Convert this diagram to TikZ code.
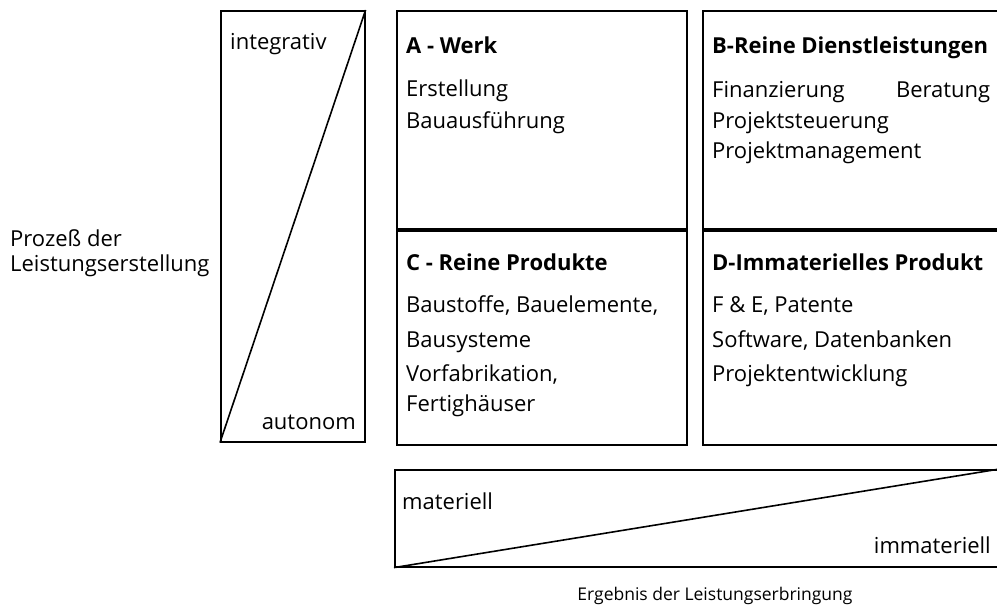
\documentclass[tikz,border=0pt]{standalone}
\usepackage{fontspec}
\setmainfont{Open Sans}
\usetikzlibrary{positioning}

\newcommand{\stacked}[1]{\begin{tabular}[t]{@{}l@{}}#1\end{tabular}}

\tikzset{
    frame/.style={draw,line width=1.6pt,anchor=north west,inner sep=0pt},
    txt/.style={anchor=base west,inner sep=0pt,
        font=\fontsize{22}{32}\selectfont},
    head/.style={txt,font=\fontsize{22}{26}\selectfont\bfseries}
}

\begin{document}
\begin{tikzpicture}[x=1pt,y=-1pt]
    \useasboundingbox (0,0) rectangle (997,612);
    \clip (0,0) rectangle (997,612);

    % Prozess der Leistungserstellung
    \node[frame,minimum width=144pt,minimum height=431pt] (proc) at (220,10) {};
    \draw[line width=1.6pt] (proc.south west) -- (proc.north east);
    \node[txt] (integ) at (230,50) {integrativ};
    \node[txt,anchor=base east] (auton) at (356,430) {autonom};
    \node[txt,font=\fontsize{22}{24.5}\selectfont] (proclbl) at (10,247)
        {\stacked{Prozeß der\\Leistungserstellung}};

    % the four fields
    \node[frame,minimum width=290pt,minimum height=218pt] (A) at (396,10) {};
    \node[frame,minimum width=300pt,minimum height=218pt] (B) at (702,10) {};
    \node[frame,minimum width=290pt,minimum height=214pt] (C) at (396,230) {};
    \node[frame,minimum width=300pt,minimum height=214pt] (D) at (702,230) {};

    \node[head] (Ahead) at (406,54) {A - Werk};
    \node[txt] (Abody) at (406,97) {\stacked{Erstellung\\Bauausführung}};

    \node[head] (Bhead) at (712,54) {B-Reine Dienstleistungen};
    \node[txt,font=\fontsize{22}{30.5}\selectfont] (Bbody) at (712,98)
        {\stacked{\makebox[278pt][l]{Finanzierung\hfill Beratung}\\Projektsteuerung\\Projektmanagement}};

    \node[head] (Chead) at (406,271) {C - Reine Produkte};
    \node[txt,font=\fontsize{22}{34.5}\selectfont] (Cbody) at (406,313)
        {\stacked{Baustoffe, Bauelemente,\\Bausysteme\\Vorfabrikation,\\[-5pt]Fertighäuser}};

    \node[head] (Dhead) at (712,271) {D-Immaterielles Produkt};
    \node[txt,font=\fontsize{22}{34.5}\selectfont] (Dbody) at (712,313)
        {\stacked{F \& E, Patente\\Software, Datenbanken\\Projektentwicklung}};

    % Ergebnis der Leistungserbringung
    \node[frame,minimum width=604pt,minimum height=97pt] (erg) at (394,469) {};
    \draw[line width=1.6pt] (erg.south west) -- (erg.north east);
    \node[txt] (mat) at (402,509) {materiell};
    \node[txt,anchor=base east] (immat) at (991,553) {immateriell};
    \node[txt,anchor=base,font=\fontsize{17.5}{20}\selectfont] (erglbl) at (715,600)
        {Ergebnis der Leistungserbringung};
\end{tikzpicture}
\end{document}
